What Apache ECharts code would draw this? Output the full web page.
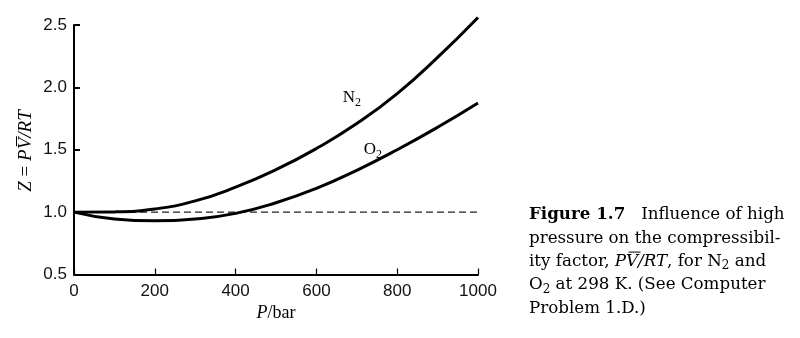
<!DOCTYPE html>
<html>
<head>
<meta charset="utf-8">
<script src="https://cdn.jsdelivr.net/npm/echarts@6/dist/echarts.min.js"></script>
<style>
  html, body { margin: 0; padding: 0; background: #fff; }
  #chart { width: 800px; height: 338px; }
</style>
</head>
<body>
<div id="chart"></div>
<script>
// Pressure (bar) and compressibility factor Z = PV/RT at 298 K
const pressure = [0, 100, 200, 300, 400, 500, 600, 700, 800, 900, 1000];
const zN2 = [1.00, 1.002, 1.025, 1.09, 1.20, 1.34, 1.51, 1.71, 1.95, 2.24, 2.56];
const zO2 = [1.00, 0.945, 0.93, 0.945, 0.99, 1.075, 1.19, 1.335, 1.50, 1.68, 1.875];
const idealZ = [1.0, 1.0];
const idealP = [0, 1000];

const xTicks = { min: 0, max: 1000, step: 200 };
const yTicks = { min: 0.5, max: 2.5, step: 0.5 };

// Curve labels, anchored in data coordinates [P, Z]
const labelN2 = { text: 'N', sub: '2', at: [688, 1.915] };
const labelO2 = { text: 'O', sub: '2', at: [740, 1.498] };

const serifFam = '"Liberation Serif"';
const capFam = '"DejaVu Serif"';
const sans = '"Liberation Sans", Arial, sans-serif';

const toPairs = (xs, ys) => xs.map((x, i) => [x, ys[i]]);

// Text width helper for placing overbars
const measureCtx = document.createElement('canvas').getContext('2d');
function textWidth(str, size, family, style, weight) {
  measureCtx.font = (style || 'normal') + ' ' + (weight || 'normal') + ' ' + size + 'px ' + family;
  return measureCtx.measureText(str).width;
}

const subRich = {
  m: { fontFamily: serifFam, fontSize: 17, color: '#000', lineHeight: 22, verticalAlign: 'middle' },
  s: { fontFamily: serifFam, fontSize: 12, color: '#000', lineHeight: 12, verticalAlign: 'bottom' }
};

function curveLabel(lbl) {
  return {
    symbol: 'circle',
    symbolSize: 0,
    data: [{
      coord: lbl.at,
      label: {
        show: true,
        position: 'inside',
        formatter: '{m|' + lbl.text + '}{s|' + lbl.sub + '}',
        rich: subRich
      }
    }]
  };
}

// ---- caption block ----
const capSize = 16.7;
const capRich = {
  b: { fontFamily: capFam, fontSize: capSize, fontWeight: 'bold', color: '#111' },
  r: { fontFamily: capFam, fontSize: capSize, color: '#111' },
  i: { fontFamily: capFam, fontSize: capSize, fontStyle: 'italic', color: '#111' },
  s: { fontFamily: capFam, fontSize: 12, color: '#111', padding: [9, 0, 0, 0] }
};
const capLines = [
  '{b|Figure 1.7}{r|   Influence of high}',
  '{r|pressure on the compressibil-}',
  '{r|ity factor, }{i|PV/RT}{r|, for N}{s|2}{r| and}',
  '{r|O}{s|2}{r| at 298 K. (See Computer}',
  '{r|Problem 1.D.)}'
];
const capX = 529, capY0 = 215, capGap = 23.3;

const graphics = capLines.map((t, i) => ({
  type: 'text',
  x: capX,
  y: capY0 + i * capGap,
  style: { text: t, rich: capRich, verticalAlign: 'middle', align: 'left' }
}));

// overbar on V in caption line 3
(function () {
  const x0 = capX + textWidth('ity factor, ', capSize, capFam) +
    textWidth('P', capSize, capFam, 'italic');
  const wV = textWidth('V', capSize, capFam, 'italic');
  const yBar = capY0 + 2 * capGap - 9.5;
  graphics.push({
    type: 'line',
    shape: { x1: x0 + 2.5, y1: yBar, x2: x0 + wV + 2.5, y2: yBar },
    style: { stroke: '#111', lineWidth: 1.1 }
  });
})();

// ---- rotated y-axis title: Z = PV̄/RT ----
(function () {
  const size = 19;
  const wZ = textWidth('Z', size, serifFam, 'italic');
  const wEq = textWidth(' = ', size, serifFam);
  const wP = textWidth('P', size, serifFam, 'italic');
  const wV = textWidth('V', size, serifFam, 'italic');
  const wRest = textWidth('/RT', size, serifFam, 'italic');
  const total = wZ + wEq + wP + wV + wRest;
  const start = -total / 2;
  const vx = start + wZ + wEq + wP;
  graphics.push({
    type: 'group',
    x: 26,
    y: 151,
    rotation: Math.PI / 2,
    children: [
      {
        type: 'text',
        x: start,
        y: 0,
        style: {
          text: '{i|Z}{r| = }{i|PV/RT}',
          align: 'left',
          verticalAlign: 'middle',
          rich: {
            i: { fontFamily: serifFam, fontSize: size, fontStyle: 'italic', color: '#000' },
            r: { fontFamily: serifFam, fontSize: size, color: '#000' }
          }
        }
      },
      {
        type: 'line',
        shape: { x1: vx + 3, y1: -9.5, x2: vx + wV + 1.5, y2: -9.5 },
        style: { stroke: '#000', lineWidth: 1 }
      }
    ]
  });
})();

const chart = echarts.init(document.getElementById('chart'), null, { renderer: 'canvas' });

chart.setOption({
  animation: false,
  backgroundColor: '#fff',
  grid: { left: 74, top: 25, right: 322, bottom: 63.5, containLabel: false },
  xAxis: {
    type: 'value',
    min: xTicks.min,
    max: xTicks.max,
    interval: xTicks.step,
    name: '{i|P}{r|/bar}',
    nameLocation: 'middle',
    nameGap: 21,
    nameTextStyle: {
      rich: {
        i: { fontFamily: serifFam, fontSize: 18, fontStyle: 'italic', color: '#000' },
        r: { fontFamily: serifFam, fontSize: 18, color: '#000' }
      }
    },
    axisLine: { show: true, onZero: false, lineStyle: { color: '#000', width: 2 } },
    axisTick: { show: true, inside: true, length: 6, lineStyle: { color: '#000', width: 1.2 } },
    axisLabel: {
      margin: 8, fontFamily: sans, fontSize: 17, color: '#111',
      formatter: v => String(v)
    },
    splitLine: { show: false }
  },
  yAxis: {
    type: 'value',
    min: yTicks.min,
    max: yTicks.max,
    interval: yTicks.step,
    axisLine: { show: true, onZero: false, lineStyle: { color: '#000', width: 2 } },
    axisTick: { show: true, inside: true, length: 6, lineStyle: { color: '#000', width: 2 } },
    axisLabel: {
      margin: 7, fontFamily: sans, fontSize: 17, color: '#111',
      formatter: v => v.toFixed(1)
    },
    splitLine: { show: false }
  },
  series: [
    {
      name: 'ideal',
      type: 'line',
      data: toPairs(idealP, idealZ),
      symbol: 'none',
      silent: true,
      lineStyle: { color: '#222', width: 1.1, type: [7, 4] },
      z: 1
    },
    {
      name: 'N2',
      type: 'line',
      data: toPairs(pressure, zN2),
      smooth: true,
      clip: false,
      symbol: 'none',
      lineStyle: { color: '#000', width: 3 },
      markPoint: curveLabel(labelN2),
      z: 3
    },
    {
      name: 'O2',
      type: 'line',
      data: toPairs(pressure, zO2),
      smooth: true,
      clip: false,
      symbol: 'none',
      lineStyle: { color: '#000', width: 3 },
      markPoint: curveLabel(labelO2),
      z: 3
    }
  ],
  graphic: graphics
});
</script>
</body>
</html>
